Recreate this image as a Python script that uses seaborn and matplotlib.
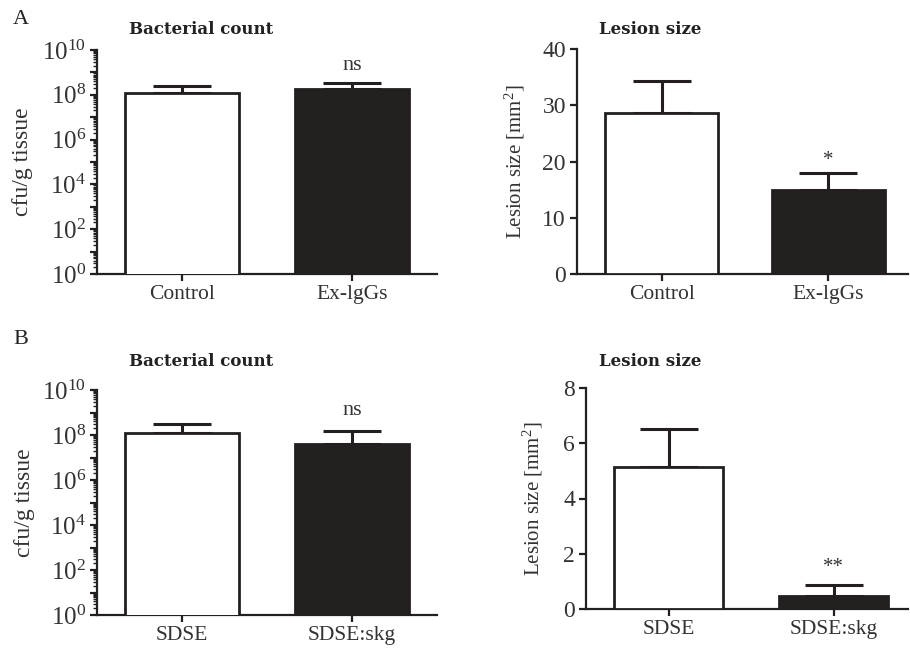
import numpy as np
import pandas as pd
import matplotlib
matplotlib.use("Agg")
import matplotlib.pyplot as plt
import matplotlib.ticker as mticker
import seaborn as sns

# ---- data ----
groups_A = ["Control", "Ex-lgGs"]
count_A = [1.2e8, 1.75e8]
count_A_err = [1.4e8, 1.65e8]
lesion_A = [28.6, 14.9]
lesion_A_err = [5.7, 3.1]

groups_B = ["SDSE", "SDSE:skg"]
count_B = [1.26e8, 3.9e7]
count_B_err = [1.94e8, 1.16e8]
lesion_B = [5.13, 0.48]
lesion_B_err = [1.4, 0.38]

sig_count_A = "ns"
sig_lesion_A = "*"
sig_count_B = "ns"
sig_lesion_B = "**"

sns.set_theme(style="white")
plt.rcParams["font.family"] = ["Liberation Serif", "DejaVu Serif"]
plt.rcParams["mathtext.fontset"] = "custom"
plt.rcParams["mathtext.rm"] = "Liberation Serif"
plt.rcParams["mathtext.it"] = "Liberation Serif:italic"
plt.rcParams["mathtext.bf"] = "Liberation Serif:bold"

INK = "#231f20"
TXT = "#333333"
W, H = 910, 648
fig = plt.figure(figsize=(W / 100, H / 100), dpi=100)


def px_axes(x0, y0, x1, y1):
    return fig.add_axes([x0 / W, 1 - y1 / H, (x1 - x0) / W, (y1 - y0) / H])


def style_axes(ax, ysize):
    for s in ["top", "right"]:
        ax.spines[s].set_visible(False)
    for s in ["left", "bottom"]:
        ax.spines[s].set_linewidth(1.6)
        ax.spines[s].set_color(INK)
    ax.tick_params(axis="both", which="major", direction="out", length=5,
                   width=1.6, color=INK, labelcolor=TXT,
                   left=True, bottom=True, pad=3)
    ax.tick_params(axis="x", labelsize=15.5)
    ax.tick_params(axis="y", labelsize=ysize)
    ax.tick_params(axis="y", which="minor", direction="out", length=3,
                   width=1.0, color=INK, left=True)


def draw_panel(ax, groups, vals, errs, log=False, bw=0.67, cap=21):
    df = pd.DataFrame({"group": groups, "value": vals})
    sns.barplot(data=df, x="group", y="value", hue="group",
                palette=["white", INK], edgecolor=INK, linewidth=2.0,
                width=bw, errorbar=None, legend=False, ax=ax, zorder=3)
    xs = np.arange(len(groups))
    lower = np.zeros(len(vals))
    ax.errorbar(xs, vals, yerr=[lower, errs], fmt="none", ecolor=INK,
                elinewidth=2.2, capsize=cap, capthick=2.2, zorder=2)
    if log:
        ax.set_yscale("log")
    style_axes(ax, 18 if log else 17)
    ax.set_xlabel("")
    return xs


# ---- Panel A left: bacterial count ----
axA1 = px_axes(97, 50, 437, 274)
draw_panel(axA1, groups_A, count_A, count_A_err, log=True, bw=0.67)
axA1.set_ylim(1, 1e10)
axA1.set_xlim(-0.5, 1.5)

# ---- Panel A right: lesion size ----
axA2 = px_axes(577, 49, 908, 274)
draw_panel(axA2, groups_A, lesion_A, lesion_A_err, bw=0.68)
axA2.set_ylim(0, 40)
axA2.set_yticks([0, 10, 20, 30, 40])
axA2.set_xlim(-0.51, 1.48)

# ---- Panel B left ----
axB1 = px_axes(97, 390, 437, 615)
draw_panel(axB1, groups_B, count_B, count_B_err, log=True, bw=0.67)
axB1.set_ylim(1, 1e10)
axB1.set_xlim(-0.5, 1.5)

# ---- Panel B right ----
axB2 = px_axes(586, 388, 908, 609)
draw_panel(axB2, groups_B, lesion_B, lesion_B_err, bw=0.66)
axB2.set_ylim(0, 8)
axB2.set_yticks([0, 2, 4, 6, 8])
axB2.set_xlim(-0.5, 1.45)

for ax in (axA1, axB1):
    ax.yaxis.set_major_locator(mticker.LogLocator(base=10, numticks=20))
    ax.yaxis.set_major_formatter(mticker.FuncFormatter(
        lambda v, p: (r"$10^{%d}$" % round(np.log10(v))) if round(np.log10(v)) % 2 == 0 else ""))
    ax.yaxis.set_minor_locator(mticker.LogLocator(base=10, subs=np.arange(2, 10), numticks=100))
    ax.yaxis.set_minor_formatter(mticker.NullFormatter())
    ax.set_ylabel("cfu/g tissue", fontsize=17, color=TXT)
axA1.yaxis.set_label_coords(-0.188, 0.5)
axB1.yaxis.set_label_coords(-0.182, 0.5)

for ax in (axA2, axB2):
    ax.set_ylabel(r"Lesion size [mm$^2$]", fontsize=15, color=TXT)
axA2.yaxis.set_label_coords(-0.150, 0.5)
axB2.yaxis.set_label_coords(-0.127, 0.5)

# significance labels
for ax, vals, errs, sig, fac in [(axA1, count_A, count_A_err, sig_count_A, 2.2),
                                 (axB1, count_B, count_B_err, sig_count_B, 3.0)]:
    top = vals[1] + errs[1]
    ax.text(1, top * fac, sig, ha="center", va="bottom", fontsize=16, color=TXT)
for ax, vals, errs, sig, off in [(axA2, lesion_A, lesion_A_err, sig_lesion_A, 0.5),
                                 (axB2, lesion_B, lesion_B_err, sig_lesion_B, 0.3)]:
    top = vals[1] + errs[1]
    ax.text(1, top + off, sig, ha="center", va="bottom", fontsize=15, color=TXT)

# titles & panel letters
title_kw = dict(fontsize=12, fontweight="bold", family=["DejaVu Serif"], color="#222222",
                ha="center", va="center")
fig.text(201 / W, 1 - 29 / H, "Bacterial count", **title_kw)
fig.text(650 / W, 1 - 30 / H, "Lesion size", **title_kw)
fig.text(201 / W, 1 - 362 / H, "Bacterial count", **title_kw)
fig.text(650 / W, 1 - 362 / H, "Lesion size", **title_kw)
fig.text(21 / W, 1 - 20 / H, "A", fontsize=16, ha="center", va="center", color="#222222")
fig.text(21 / W, 1 - 339 / H, "B", fontsize=16, ha="center", va="center", color="#222222")

fig.savefig("out.png", dpi=100, facecolor="white")
